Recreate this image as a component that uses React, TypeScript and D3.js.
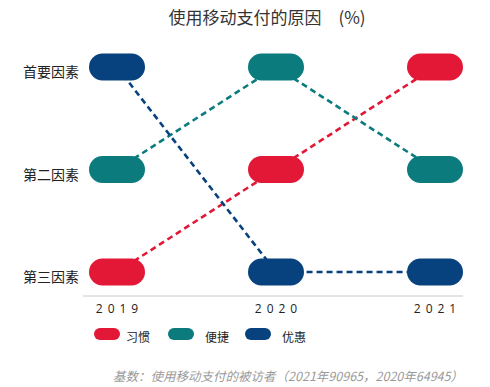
import React, { useEffect, useRef } from "react";
import * as d3 from "d3";

const years = ["2019", "2020", "2021"];
const rankLabels = ["首要因素", "第二因素", "第三因素"];
const seriesNames = ["习惯", "便捷", "优惠"];
const habitRanks = [3, 2, 1];
const convenienceRanks = [2, 1, 2];
const discountRanks = [1, 3, 3];
const seriesColors = ["#e31837", "#0b7b7d", "#07427e"];

const title = "使用移动支付的原因\u3000(%)";
const footnote = "基数：使用移动支付的被访者（2021年90965，2020年64945）";

const W = 490;
const H = 387;
const CJK = "'Noto Sans CJK SC', 'Noto Sans', sans-serif";

export default function App() {
  const ref = useRef<SVGSVGElement | null>(null);

  useEffect(() => {
    const svg = d3.select(ref.current);
    svg.selectAll("*").remove();

    const series = [habitRanks, convenienceRanks, discountRanks].map((ranks, i) => ({
      name: seriesNames[i],
      color: seriesColors[i],
      points: ranks.map((r, j) => ({ year: years[j], rank: r })),
    }));

    // x = pill centres, y = rank rows
    const x = d3.scalePoint().domain(years).range([117, 435]);
    const y = d3.scaleLinear().domain([1, 3]).range([67, 272]);

    const pillW = 56;
    const pillH = 27;

    svg
      .append("text")
      .attr("x", 267)
      .attr("y", 24)
      .attr("text-anchor", "middle")
      .style("font-family", CJK)
      .style("font-size", "17px")
      .attr("fill", "#333")
      .text(title);

    // row labels
    svg
      .selectAll("text.rank")
      .data(rankLabels)
      .enter()
      .append("text")
      .attr("class", "rank")
      .attr("x", 79)
      .attr("y", (d, i) => y(i + 1) + 4)
      .attr("text-anchor", "end")
      .attr("dominant-baseline", "central")
      .style("font-family", CJK)
      .style("font-size", "14px")
      .attr("fill", "#222")
      .text((d) => d);

    // baseline + year labels
    svg
      .append("line")
      .attr("x1", 83)
      .attr("x2", 463)
      .attr("y1", 296)
      .attr("y2", 296)
      .attr("stroke", "#c8c8c8")
      .attr("stroke-width", 1);

    svg
      .selectAll("text.year")
      .data(years)
      .enter()
      .append("text")
      .attr("class", "year")
      .attr("x", (d) => x(d)! + 2.5)
      .attr("y", 313)
      .attr("text-anchor", "middle")
      .style("font-family", "'Open Sans', sans-serif")
      .style("font-size", "12px")
      .style("letter-spacing", "5px")
      .attr("fill", "#222")
      .text((d) => d);

    // dashed connectors first so the pills sit on top
    const line = d3
      .line<{ year: string; rank: number }>()
      .x((d) => x(d.year)!)
      .y((d) => y(d.rank));

    svg
      .selectAll("path.link")
      .data(series)
      .enter()
      .append("path")
      .attr("class", "link")
      .attr("d", (d) => line(d.points))
      .attr("fill", "none")
      .attr("stroke", (d) => d.color)
      .attr("stroke-width", 2.6)
      .attr("stroke-dasharray", "6,4");

    const groups = svg.selectAll("g.series").data(series).enter().append("g").attr("class", "series");

    groups
      .selectAll("rect")
      .data((d) => d.points.map((p) => ({ ...p, color: d.color })))
      .enter()
      .append("rect")
      .attr("x", (d) => x(d.year)! - pillW / 2)
      .attr("y", (d) => y(d.rank) - pillH / 2)
      .attr("width", pillW)
      .attr("height", pillH)
      .attr("rx", pillH / 2)
      .attr("fill", (d) => d.color);

    // legend
    const legendX = [94, 168, 245];
    const legend = svg
      .selectAll("g.legend")
      .data(series)
      .enter()
      .append("g")
      .attr("class", "legend")
      .attr("transform", (d, i) => "translate(" + legendX[i] + ",328)");

    legend
      .append("rect")
      .attr("width", 26)
      .attr("height", 12)
      .attr("rx", 6)
      .attr("fill", (d) => d.color);

    legend
      .append("text")
      .attr("x", (d, i) => (i === 0 ? 32 : 37))
      .attr("y", 8)
      .attr("dominant-baseline", "central")
      .style("font-family", CJK)
      .style("font-size", "12px")
      .attr("fill", "#222")
      .text((d) => d.name);

    svg
      .append("text")
      .attr("x", 463)
      .attr("y", 381)
      .attr("text-anchor", "end")
      .style("font-family", CJK)
      .style("font-size", "12.5px")
      .style("font-style", "italic")
      .attr("fill", "#9a9a9a")
      .text(footnote);
  }, []);

  return (
    <svg
      ref={ref}
      width={W}
      height={H}
      style={{ position: "absolute", left: 0, top: 0, background: "#fff" }}
    />
  );
}
